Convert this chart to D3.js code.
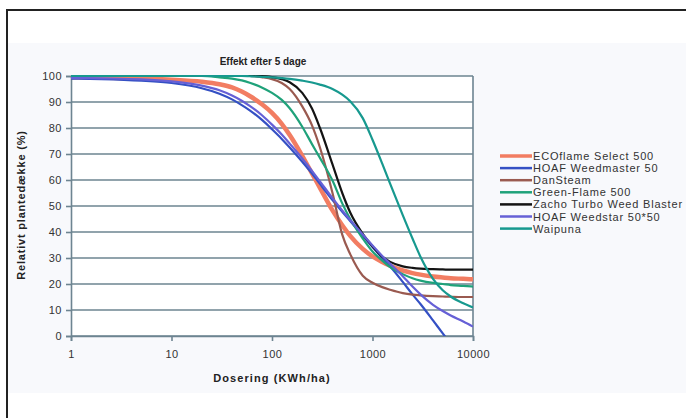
<!DOCTYPE html>
<html>
<head>
<meta charset="utf-8">
<script src="https://cdn.jsdelivr.net/npm/d3@7"></script>
<style>
  body { margin: 0; background: #fff; }
  svg { display: block; font-family: "Liberation Sans", Arial, sans-serif; }
</style>
</head>
<body>
<svg id="chart" width="686" height="418"></svg>
<script>
// dose (KWh/ha) where each series is sampled
const doses = [1, 2, 5, 10, 20, 30, 40, 50, 60, 80, 100, 125, 150, 200, 250, 300, 400, 500, 600, 800,
               1000, 1250, 1500, 2000, 2500, 3000, 4000, 5000, 6000, 8000, 10000];

const ecoflame   = [99.5, 99.4, 99, 98.6, 97.8, 96.8, 95.6, 94, 92.3, 89, 85.8, 81.6, 77.3, 69.3, 62.5, 57, 48.3, 42.6, 38.5, 33.5,
                    30.6, 28.5, 27, 25.2, 24.2, 23.6, 22.9, 22.5, 22.2, 22, 21.8];
const weedmaster = [99, 98.8, 98.2, 97.3, 95.3, 93.2, 91, 88.8, 86.8, 83, 79.5, 75.8, 72.5, 67, 62.5, 58.5, 52.3, 47.8, 44.2, 38.5,
                    34.2, 30, 26.7, 20.8, 16, 12.3, 6, 1, -3, null, null];
const danSteam   = [100, 100, 100, 100, 100, 100, 100, 100, 100, 99.5, 98.8, 97.3, 95, 88.3, 81, 72.5, 55, 39, 31.5, 23.2,
                    20.5, 18.8, 17.8, 16.5, 15.9, 15.6, 15.3, 15.2, 15.1, 15, 15];
const greenFlame = [100, 100, 100, 100, 100, 99.5, 99, 98.3, 97.4, 95.5, 93.5, 90.8, 87.6, 80.5, 73.8, 68.5, 59.8, 51, 45, 37.5,
                    32.5, 29, 26.5, 23.8, 22.2, 21.3, 20.4, 20, 19.6, 19.3, 19];
const zacho      = [100, 100, 100, 100, 100, 100, 100, 100, 100, 100, 99.6, 98.8, 97.6, 93.5, 87.5, 80, 66, 55, 47.5, 39.3,
                    34.5, 30.5, 28.5, 26.8, 26.2, 25.9, 25.7, 25.6, 25.5, 25.5, 25.5];
const weedstar   = [99.3, 99.1, 98.7, 97.9, 96.3, 94.5, 92.5, 90.5, 88.5, 84.8, 81.3, 77.5, 74, 68.3, 63.5, 59.5, 53, 48.3, 44.6, 39,
                    34.8, 30.8, 27.8, 23, 19, 16, 12, 9.6, 7.9, 5.6, 3.6];
const waipuna    = [100, 100, 100, 100, 100, 100, 100, 100, 99.9, 99.7, 99.5, 99.2, 98.9, 98.2, 97.5, 96.7, 95, 92.8, 90.3, 83.8,
                    75.5, 66.3, 58.5, 46.5, 37.5, 30.5, 22, 17.6, 15.2, 12.6, 11];

const seriesNames = ["ECOflame Select 500", "HOAF Weedmaster 50", "DanSteam", "Green-Flame 500",
                     "Zacho Turbo Weed Blaster", "HOAF Weedstar 50*50", "Waipuna"];
const seriesValues = [ecoflame, weedmaster, danSteam, greenFlame, zacho, weedstar, waipuna];
const seriesColors = ["#f27d62", "#3450c4", "#9a5a50", "#1fa27a", "#141414", "#6660d6", "#17998f"];
const seriesWidths = [4.5, 2.2, 2.2, 2.2, 2.2, 2.2, 2.2];

const xTicks = [1, 10, 100, 1000, 10000];
const yTicks = [0, 10, 20, 30, 40, 50, 60, 70, 80, 90, 100];

const svg = d3.select("#chart");
const gridColor = "#6d8491";

// outer frame and chart area
svg.append("rect").attr("x", 8).attr("y", 43).attr("width", 678).attr("height", 350).attr("fill", "#f8f9fc");
svg.append("path").attr("d", "M7,418 V10 H686").attr("fill", "none").attr("stroke", "#222").attr("stroke-width", 2);

const x = d3.scaleLog().domain([1, 10000]).range([71, 473]);
const y = d3.scaleLinear().domain([0, 100]).range([336, 76]);

svg.append("rect").attr("x", 71).attr("y", 76).attr("width", 402).attr("height", 260).attr("fill", "#fff");
svg.append("clipPath").attr("id", "plot-clip")
  .append("rect").attr("x", 71).attr("y", 70).attr("width", 402).attr("height", 266);

// gridlines
svg.append("g").selectAll("line").data(yTicks).join("line")
  .attr("x1", 71).attr("x2", 473)
  .attr("y1", d => y(d)).attr("y2", d => y(d))
  .attr("stroke", gridColor).attr("stroke-width", 1.6);
svg.append("line").attr("x1", 473).attr("x2", 473).attr("y1", 76).attr("y2", 336)
  .attr("stroke", gridColor).attr("stroke-width", 1.6);

// axes
const yAxis = svg.append("g").attr("transform", "translate(71,0)")
  .call(d3.axisLeft(y).tickValues(yTicks).tickSize(5).tickPadding(4));
const xAxis = svg.append("g").attr("transform", "translate(0,336)")
  .call(d3.axisBottom(x).tickValues(xTicks).tickFormat(d3.format("d")).tickSize(5).tickPadding(9));
[yAxis, xAxis].forEach(g => {
  g.select(".domain").attr("stroke", gridColor).attr("stroke-width", 1.6);
  g.selectAll(".tick line").attr("stroke", gridColor).attr("stroke-width", 1.6);
  g.selectAll(".tick text").attr("font-size", 11).attr("fill", "#333")
    .attr("letter-spacing", 0.5)
    .attr("font-family", "Liberation Sans, Arial, sans-serif");
});

// series lines
const line = d3.line()
  .defined(d => d[1] != null)
  .x(d => x(d[0]))
  .y(d => y(d[1]))
  .curve(d3.curveMonotoneX);

const lines = svg.append("g").attr("clip-path", "url(#plot-clip)");
seriesValues.forEach((vals, i) => {
  lines.append("path")
    .datum(doses.map((dd, j) => [dd, vals[j]]))
    .attr("d", line)
    .attr("fill", "none")
    .attr("stroke", seriesColors[i])
    .attr("stroke-width", seriesWidths[i])
    .attr("stroke-linejoin", "round");
});

// titles
svg.append("text").attr("x", 263).attr("y", 65).attr("text-anchor", "middle")
  .attr("font-size", 10).attr("font-weight", "bold").attr("fill", "#222")
  .text("Effekt efter 5 dage");
svg.append("text").attr("x", 272).attr("y", 382).attr("text-anchor", "middle")
  .attr("font-size", 11).attr("font-weight", "bold").attr("fill", "#222")
  .attr("letter-spacing", 1.1)
  .text("Dosering (KWh/ha)");
svg.append("text").attr("transform", "translate(25,205) rotate(-90)").attr("text-anchor", "middle")
  .attr("font-size", 11).attr("font-weight", "bold").attr("fill", "#222")
  .attr("letter-spacing", 0.8)
  .text("Relativt plantedække (%)");

// legend
const legend = svg.append("g").selectAll("g").data(seriesNames).join("g")
  .attr("transform", (d, i) => `translate(500,${156 + i * 12.1})`);
legend.append("line").attr("x1", 0).attr("x2", 32).attr("y1", 0).attr("y2", 0)
  .attr("stroke", (d, i) => seriesColors[i]).attr("stroke-width", (d, i) => i === 0 ? 3.5 : 2.5);
legend.append("text").attr("x", 33).attr("y", 4)
  .attr("font-size", 11).attr("fill", "#333")
  .attr("letter-spacing", 0.8)
  .text(d => d);
</script>
</body>
</html>
